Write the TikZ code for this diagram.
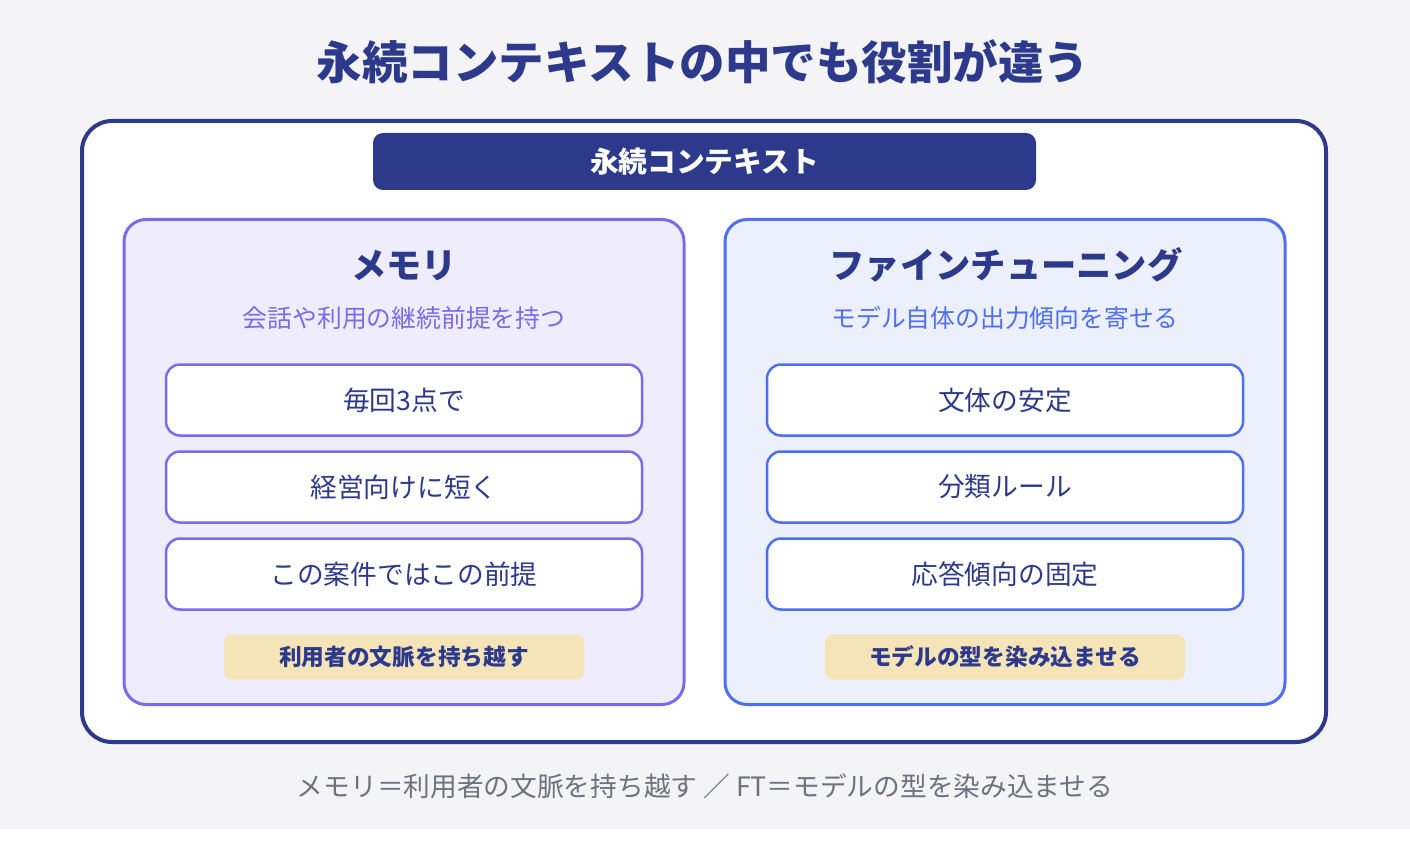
\documentclass[tikz,border=0pt]{standalone}
\usepackage{fontspec}
\setmainfont{Noto Sans CJK JP}
\usetikzlibrary{positioning}

\definecolor{navy}{HTML}{2D3A8C}
\definecolor{pagebg}{HTML}{F4F4F7}
\definecolor{memoline}{HTML}{7B6BEA}
\definecolor{memofill}{HTML}{EFECFD}
\definecolor{ftline}{HTML}{4E6FF2}
\definecolor{ftfill}{HTML}{ECF0FD}
\definecolor{tagfill}{HTML}{F5E4B8}
\definecolor{notegray}{HTML}{6B7280}

\begin{document}
\begin{tikzpicture}[x=1pt,y=-1pt,every node/.style={align=center,inner sep=0pt},
    panel/.style={draw=#1,line width=3pt,rounded corners=22pt,minimum width=560pt,minimum height=485pt},
    item/.style={draw=#1,line width=2.5pt,fill=white,rounded corners=14pt,minimum width=476pt,minimum height=71pt,text=navy,font=\fontsize{26.7}{31}\selectfont},
    tag/.style={fill=tagfill,rounded corners=8pt,minimum width=360pt,minimum height=45pt,text=navy,font=\bfseries\fontsize{22.7}{27}\selectfont}]
        \useasboundingbox (0,0) rectangle (1410,850);
        \fill[pagebg] (0,0) rectangle (1410,829);

        \node[text=navy,font=\bfseries\fontsize{45.5}{52}\selectfont] (title) at (703,62) {永続コンテキストの中でも役割が違う};

        \node[draw=navy,line width=4pt,fill=white,rounded corners=30pt,minimum width=1244pt,minimum height=621pt] (ctx) at (704,431.5) {};
        \node[fill=navy,rounded corners=10pt,minimum width=663pt,minimum height=57pt,text=white,font=\bfseries\fontsize{28.7}{34}\selectfont] (ctxhead) at (704.5,161.5) {永続コンテキスト};

        \node[panel=memoline,fill=memofill] (memo) at (404,462) {};
        \node[panel=ftline,fill=ftfill] (ft) at (1005,462) {};

        \node[text=navy,font=\bfseries\fontsize{35.3}{41}\selectfont] (memohead) at (404,265) {メモリ};
        \node[text=navy,font=\bfseries\fontsize{35.3}{41}\selectfont] (fthead) at (1006,265) {ファインチューニング};
        \node[text=memoline,font=\fontsize{24.8}{29}\selectfont] (memosub) at (404,318) {会話や利用の継続前提を持つ};
        \node[text=ftline,font=\fontsize{24.8}{29}\selectfont] (ftsub) at (1005,318) {モデル自体の出力傾向を寄せる};

        \foreach \t [count=\i] in {毎回3点で,経営向けに短く,この案件ではこの前提} {\node[item=memoline] (memo\i) at (404,313+87*\i) {\t};}
        \foreach \t [count=\i] in {文体の安定,分類ルール,応答傾向の固定} {\node[item=ftline] (ft\i) at (1005,313+87*\i) {\t};}

        \node[tag] (memotag) at (404,657) {利用者の文脈を持ち越す};
        \node[tag] (fttag) at (1005,657) {モデルの型を染み込ませる};

        \node[text=notegray,font=\fontsize{26.7}{31}\selectfont] (note) at (705,786) {メモリ＝利用者の文脈を持ち越す ／ FT＝モデルの型を染み込ませる};
    \end{tikzpicture}
\end{document}
